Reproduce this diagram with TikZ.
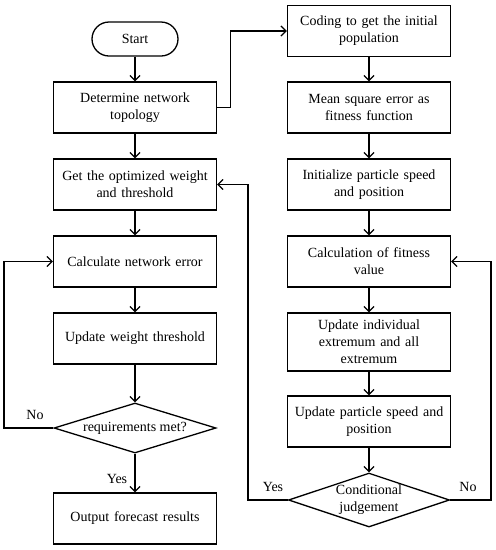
\documentclass[tikz,border=0pt]{standalone}
\usepackage{fontspec}
\setmainfont{Liberation Serif}
\usetikzlibrary{shapes.geometric,arrows.meta}

\begin{document}
\begin{tikzpicture}
        [
            x=1pt, y=-1pt,
            line width=1.3pt,
            every node/.style={font=\fontsize{14}{17}\selectfont},
            box/.style={draw, rectangle, minimum width=163pt, minimum height=51pt, text width=156pt, align=center, inner sep=0pt},
            bigbox/.style={box, minimum height=58pt},
            startnode/.style={draw, rounded corners=17pt, minimum width=86pt, minimum height=34pt},
            decision/.style={draw, diamond, aspect=3.24, minimum width=162pt, minimum height=50pt, inner sep=0pt, align=center},
            flow/.style={draw, -{Straight Barb[length=5pt,width=10pt]}},
            answer/.style={inner sep=0pt}
        ]

        \useasboundingbox (0,0) rectangle (496,550);

        % left column
        \node[startnode] (start) at (135,39) {Start};
        \node[box] (topology) at (135,107.5) {Determine network\\topology};
        \node[box] (optimized) at (135,184.5) {Get the optimized weight\\and threshold};
        \node[box] (neterror) at (135,261.5) {Calculate network error};
        \node[box] (weight) at (135,338.5) {Update weight threshold};
        \node[decision] (reqmet) at (135,428) {requirements met?};
        \node[box] (output) at (135,518.5) {Output forecast results};

        % right column
        \node[box] (coding) at (369,31) {Coding to get the initial\\population};
        \node[box] (mse) at (369,107.5) {Mean square error as\\fitness function};
        \node[box] (init) at (369,184.5) {Initialize particle speed\\and position};
        \node[box] (fitness) at (369,261.5) {Calculation of fitness\\value};
        \node[bigbox] (extremum) at (369,342) {Update individual\\extremum and all\\extremum};
        \node[box] (particle) at (369,421.5) {Update particle speed and\\position};
        \node[decision, aspect=2.98, minimum width=161pt, minimum height=54pt] (judge) at (369,500) {Conditional\\judgement};

        % rails for the loops
        \coordinate (leftrail) at (4,0);
        \coordinate (midrail) at (248,0);
        \coordinate (rightrail) at (491,0);

        \draw[flow] (start) -- (topology);
        \draw[flow] (topology) -- (optimized);
        \draw[flow] (optimized) -- (neterror);
        \draw[flow] (neterror) -- (weight);
        \draw[flow] (weight) -- (reqmet);
        \draw[flow] (reqmet) -- (output);
        \draw[flow] (topology.east) -- ++(13,0) |- (coding.west);
        \draw[flow] (coding) -- (mse);
        \draw[flow] (mse) -- (init);
        \draw[flow] (init) -- (fitness);
        \draw[flow] (fitness) -- (extremum);
        \draw[flow] (extremum) -- (particle);
        \draw[flow] (particle) -- (judge);
        \draw[flow] (reqmet.west) -- (reqmet.west -| leftrail) |- (neterror.west);
        \draw[flow] (judge.west) -- (judge.west -| midrail) |- (optimized.east);
        \draw[flow] (judge.east) -- (judge.east -| rightrail) |- (fitness.east);

        % answers
        \node[answer] (noleft) at (35,415) {No};
        \node[answer] (yesleft) at (117,479) {Yes};
        \node[answer] (yesright) at (273,487) {Yes};
        \node[answer] (noright) at (468,487) {No};
\end{tikzpicture}
\end{document}
